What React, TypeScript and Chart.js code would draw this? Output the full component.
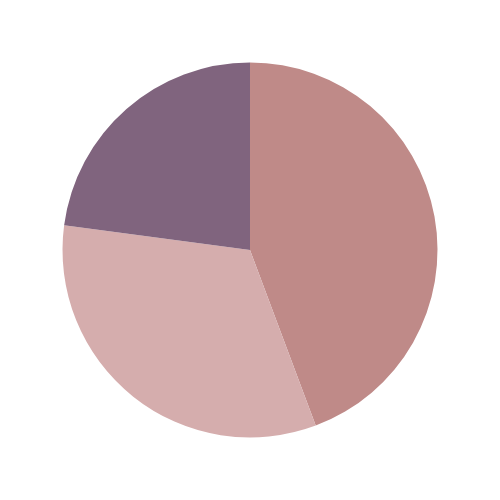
import { useEffect, useRef } from 'react'
import { Chart, registerables } from 'chart.js'
Chart.register(...registerables)

const labels = ['A', 'B', 'C']
const values = [44.3, 32.8, 22.9]
const colors = ['#bf8a88', '#d5adad', '#80647e']

const App = () => {
  const canvas = useRef<HTMLCanvasElement | null>(null)
  useEffect(() => {
    document.body.style.margin = '0'
    const chart = new Chart(canvas.current as HTMLCanvasElement, {
      type: 'pie',
      data: {
        labels,
        datasets: [
          {
            data: values,
            backgroundColor: colors,
            borderWidth: 0,
          },
        ],
      },
      options: {
        animation: false,
        responsive: false,
        layout: { padding: 62.5 },
        plugins: {
          legend: { display: false },
          tooltip: { enabled: false },
        },
      },
    })
    return () => chart.destroy()
  }, [])
  return (
    <div style={{ width: 500, height: 500 }}>
      <canvas ref={canvas} width={500} height={500}></canvas>
    </div>
  )
}

export default App
